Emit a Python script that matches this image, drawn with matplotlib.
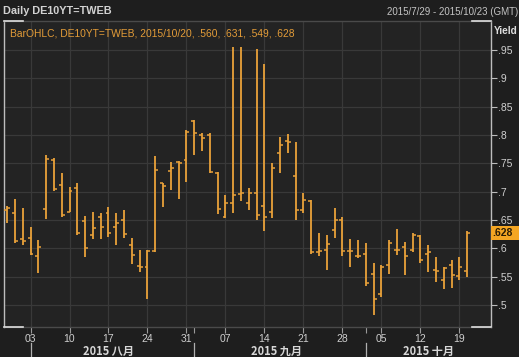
import matplotlib
matplotlib.use("Agg")
import matplotlib.pyplot as plt
from matplotlib import font_manager
from matplotlib.patches import Rectangle
from matplotlib.transforms import blended_transform_factory
import pandas as pd
import numpy as np

# ---------------- data ----------------
start_date = "2015-07-29"
end_date = "2015-10-23"
last_bar_date = "2015/10/20"
opens = [.668, .663, .617, .618, .587, .670, .756, .712, .665, .706,
         .648, .624, .655, .662, .637, .650, .606, .569, .568, .596,
         .715, .737, .752, .756, .824, .800, .800, .733, .656, .680,
         .696, .680, .697, .675, .665, .768, .790, .727, .668, .684,
         .593, .597, .633, .651, .595, .587, .591, .555, .520, .571,
         .598, .603, .597, .622, .591, .562, .544, .571, .551, .560]
highs = [.674, .687, .671, .637, .615, .765, .759, .733, .709, .715,
         .657, .665, .662, .673, .663, .667, .619, .597, .597, .763,
         .715, .753, .754, .808, .827, .804, .803, .735, .694, .955,
         .955, .706, .951, .925, .750, .797, .802, .787, .698, .685,
         .627, .624, .671, .656, .616, .615, .610, .574, .570, .615,
         .634, .612, .628, .624, .606, .585, .568, .580, .585, .631]
lows = [.645, .610, .606, .588, .557, .652, .701, .656, .665, .624,
        .585, .616, .616, .621, .606, .619, .573, .559, .510, .594,
        .673, .703, .688, .718, .765, .771, .733, .661, .653, .662,
        .683, .668, .650, .630, .653, .733, .768, .651, .663, .591,
        .587, .562, .618, .586, .568, .583, .533, .483, .515, .555,
        .588, .553, .593, .575, .559, .540, .528, .530, .544, .549]
closes = [.671, .614, .613, .591, .602, .757, .705, .659, .702, .627,
          .600, .636, .637, .628, .645, .626, .588, .568, .596, .738,
          .710, .741, .750, .806, .803, .794, .735, .669, .680, .694,
          .698, .697, .659, .656, .741, .782, .788, .668, .685, .593,
          .595, .608, .650, .595, .595, .586, .539, .510, .568, .609,
          .597, .586, .624, .580, .594, .560, .565, .553, .567, .628]
week_labels = ["03", "10", "17", "24", "31", "07", "14", "21", "28", "05", "12", "19"]
month_labels = ["2015 八月", "2015 九月", "2015 十月"]
y_ticks = [.5, .55, .6, .65, .7, .75, .8, .85, .9, .95]
y_tick_labels = [".5", ".55", ".6", ".65", ".7", ".75", ".8", ".85", ".9", ".95"]
ric = "DE10YT=TWEB"

# ---------------- fonts ----------------
names = {f.name for f in font_manager.fontManager.ttflist}
ui_font = "Liberation Sans Narrow" if "Liberation Sans Narrow" in names else "Liberation Sans"
plt.rcParams["font.family"] = [ui_font, "DejaVu Sans"]
cjk = ["Noto Sans CJK SC", "DejaVu Sans"]

W, H = 519, 357
BG = "#1e1e1e"
PLOT_BG = "#232323"
GRID = "#393939"
BAR = "#eaa23a"
TXT = "#cfcfcf"

dates = pd.bdate_range(start_date, end_date)
n = len(opens)
idx = np.arange(n)

fig = plt.figure(figsize=(W / 100, H / 100), dpi=100, facecolor=BG)
ax = fig.add_axes([4 / W, 30 / H, 487 / W, 306 / H], facecolor=PLOT_BG)

ax.set_xlim(-0.4, len(dates) - 1 + 0.05)
ax.set_ylim(0.4615, 1.001)

# grid
mondays = [i for i, d in enumerate(dates) if d.weekday() == 0]
for m in mondays:
    ax.axvline(m, color=GRID, lw=0.9, zorder=0)
for yv in y_ticks:
    ax.axhline(yv, color=GRID, lw=0.9, zorder=0)

# OHLC bars
tw = 0.38
ax.vlines(idx, lows, highs, color=BAR, lw=1.3, zorder=3)
ax.hlines(opens, idx - tw, idx, color=BAR, lw=1.1, zorder=3)
ax.hlines(closes, idx, idx + tw, color=BAR, lw=1.1, zorder=3)

# spines
for s in ["top", "bottom"]:
    ax.spines[s].set_color("#4a4a4a")
for s in ["left", "right"]:
    ax.spines[s].set_color("#bdbdbd")
for s in ax.spines.values():
    s.set_linewidth(1.0)
# white corner segments
for xs, ys in [((0, 0.04), (1, 1)), ((0, 0.04), (0, 0)), ((0.96, 1), (1, 1)), ((0.96, 1), (0, 0))]:
    ax.plot(xs, ys, transform=ax.transAxes, color="#e0e0e0", lw=1.2, clip_on=False, zorder=5)

# y axis on right
ax.yaxis.tick_right()
ax.set_yticks(y_ticks)
ax.set_yticklabels(y_tick_labels)
ax.tick_params(axis="y", direction="out", length=4, width=0.8, color="#bdbdbd",
               labelcolor=TXT, labelsize=7.5, pad=1)

# x axis ticks: Mondays (labelled) + month starts (minor)
month_starts = [i for i in range(1, len(dates)) if dates[i].month != dates[i - 1].month]
ax.set_xticks(mondays)
ax.set_xticklabels(week_labels)
ax.set_xticks(month_starts, minor=True)
ax.tick_params(axis="x", which="both", direction="out", length=4, width=0.8,
               color="#9a9a9a", labelcolor=TXT, labelsize=7.5, pad=1)

# month separators and labels
trans = blended_transform_factory(ax.transData, ax.transAxes)
y_sep_top = -(343 - 327) / 306
y_sep_bot = -(358 - 327) / 306
for ms in month_starts:
    ax.plot([ms, ms], [y_sep_top, y_sep_bot], transform=trans, color="#b0b0b0", lw=0.9, clip_on=False)
bounds = month_starts + [len(dates)]
for k, lab in enumerate(month_labels):
    mid = (bounds[k] + bounds[k + 1] - 1) / 2
    ax.text(mid, -(351 - 327) / 306, lab, transform=trans, ha="center", va="center",
            color="#d8d8d8", fontsize=8, fontweight="bold", family=cjk)

# header texts
def fx(px):
    return px / W

def fy(py):
    return 1 - py / H

fig.text(fx(3), fy(11), "Daily " + ric, ha="left", va="center", color="#d2d2d2",
         fontsize=7.8, fontweight="bold")
fig.text(fx(518), fy(12), "2015/7/29 - 2015/10/23 (GMT)", ha="right", va="center",
         color="#c4c4c4", fontsize=7)
legend = "BarOHLC, {}, {}, {}, {}, {}, {}".format(
    ric, last_bar_date,
    *["{:.3f}".format(v).lstrip("0") for v in (opens[-1], highs[-1], lows[-1], closes[-1])])
fig.text(fx(10), fy(33), legend, ha="left", va="center", color="#e39c38", fontsize=7.4)
fig.text(fx(494), fy(31), "Yield", ha="left", va="center", color="#dcdcdc",
         fontsize=7.2, fontweight="bold")

# last value box
ylast = ax.transData.transform((0, closes[-1]))[1]
fig.patches.append(Rectangle((491 / W, (ylast - 7) / H), 28 / W, 14 / H,
                             transform=fig.transFigure, facecolor="#f4a623",
                             edgecolor="none", zorder=6))
fig.text(fx(492), ylast / H, "{:.3f}".format(closes[-1]).lstrip("0"), ha="left", va="center",
         color="#2a1c05", fontsize=7.5, fontweight="bold", zorder=7)

fig.savefig("out.png", dpi=100, facecolor=BG)
